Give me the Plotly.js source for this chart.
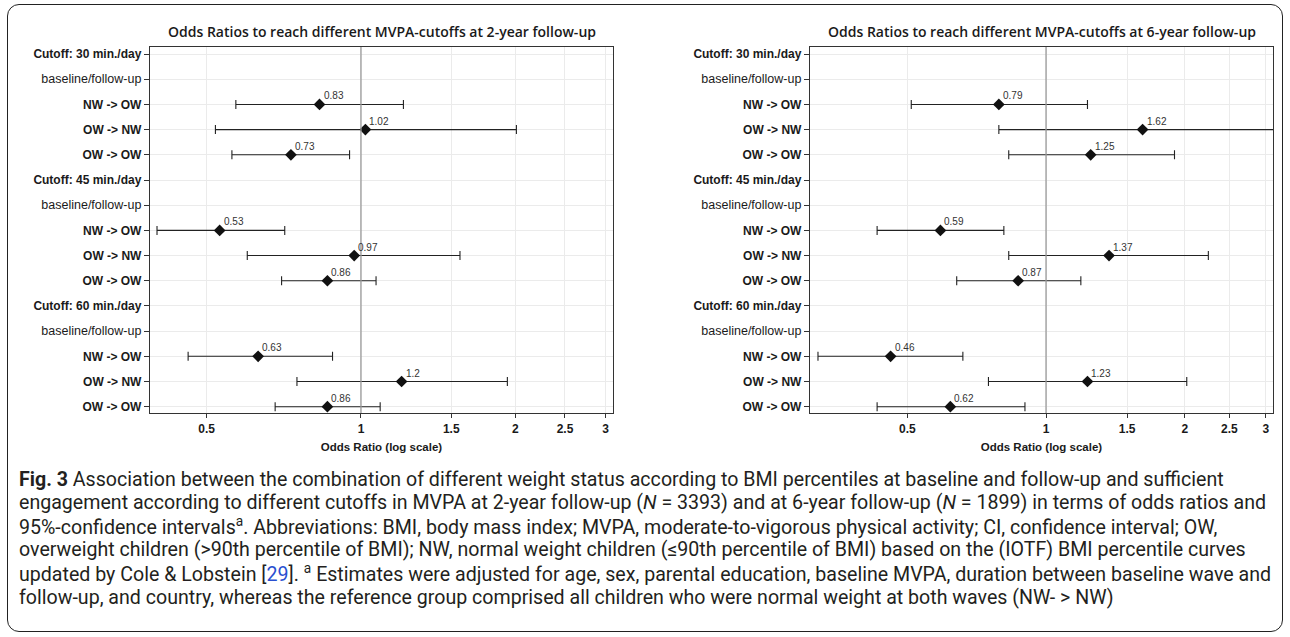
<!DOCTYPE html>
<html>
<head>
<meta charset="utf-8">
<script src="https://cdn.plot.ly/plotly-3.0.1.min.js"></script>
<style>
  html, body { margin: 0; padding: 0; background: #fff; }
  #wrap { position: relative; width: 1290px; height: 637px; }
  #chart { position: absolute; left: 0; top: 0; width: 1290px; height: 637px; }
  #frame { position: absolute; left: 7px; top: 4px; width: 1274px; height: 626px;
           border: 1.5px solid #222; border-radius: 12px; pointer-events: none; }
</style>
</head>
<body>
<div id="wrap"><div id="chart"></div><div id="frame"></div></div>
<script>
// ---------- data ----------
const cutoffLabels = ['Cutoff: 30 min./day', 'Cutoff: 45 min./day', 'Cutoff: 60 min./day'];
const subHeader = 'baseline/follow-up';
const transitions = ['NW -> OW', 'OW -> NW', 'OW -> OW'];

// 2-year follow-up (order: 30 NW->OW, OW->NW, OW->OW, 45 ..., 60 ...)
const or2 = [0.83, 1.02, 0.73, 0.53, 0.97, 0.86, 0.63, 1.2, 0.86];
const lo2 = [0.57, 0.52, 0.56, 0.40, 0.60, 0.70, 0.46, 0.75, 0.68];
const hi2 = [1.21, 2.01, 0.95, 0.71, 1.56, 1.07, 0.88, 1.93, 1.09];

// 6-year follow-up
const or6 = [0.79, 1.62, 1.25, 0.59, 1.37, 0.87, 0.46, 1.23, 0.62];
const lo6 = [0.51, 0.79, 0.83, 0.43, 0.83, 0.64, 0.32, 0.75, 0.43];
const hi6 = [1.23, 3.40, 1.90, 0.81, 2.25, 1.19, 0.66, 2.02, 0.90];

const xTicks = [0.5, 1, 1.5, 2, 2.5, 3];
const panelTitles = ['Odds Ratios to reach different MVPA-cutoffs at 2-year follow-up',
                     'Odds Ratios to reach different MVPA-cutoffs at 6-year follow-up'];
const xTitle = 'Odds Ratio (log scale)';

const captionLines = [
  '<b>Fig. 3</b> Association between the combination of different weight status according to BMI percentiles at baseline and follow-up and sufficient',
  'engagement according to different cutoffs in MVPA at 2-year follow-up (<i>N</i> = 3393) and at 6-year follow-up (<i>N</i> = 1899) in terms of odds ratios and',
  '95%-confidence intervals<sup>a</sup>. Abbreviations: BMI, body mass index; MVPA, moderate-to-vigorous physical activity; CI, confidence interval; OW,',
  'overweight children (&gt;90th percentile of BMI); NW, normal weight children (≤90th percentile of BMI) based on the (IOTF) BMI percentile curves',
  'updated by Cole &amp; Lobstein [<span style="color:#2a4fd0">29</span>]. <sup>a</sup> Estimates were adjusted for age, sex, parental education, baseline MVPA, duration between baseline wave and',
  'follow-up, and country, whereas the reference group comprised all children who were normal weight at both waves (NW- &gt; NW)'
];

// ---------- build rows ----------
const rows = [];
cutoffLabels.forEach(c => { rows.push(c); rows.push(subHeader); transitions.forEach(t => rows.push(t)); });
const estRows = [];
rows.forEach((r, i) => { if (transitions.includes(r)) estRows.push(i); });

function styledLabel(r) {
  if (r === subHeader) return '<span style="font-size:12.5px">' + r + '</span>';
  return '<b>' + r.replace('->', '-&gt;') + '</b>';
}
const tickText = rows.map(styledLabel);
const tickVals = rows.map((r, i) => i);

const baseFont = 'Liberation Sans, Arial, sans-serif';

function trace(or, lo, hi, xa, ya) {
  return {
    type: 'scatter', mode: 'markers', xaxis: xa, yaxis: ya,
    x: or, y: estRows,
    marker: {symbol: 'diamond', size: 9, color: '#111'},
    error_x: {type: 'data', symmetric: false,
              array: hi.map((h, i) => h - or[i]), arrayminus: lo.map((l, i) => or[i] - l),
              color: '#222', thickness: 1.1, width: 4.5},
    hoverinfo: 'skip', cliponaxis: true
  };
}
function valueLabels(or, xa, ya) {
  return or.map((v, i) => ({
    xref: xa, yref: ya, x: Math.log10(v), y: estRows[i],
    text: String(v), showarrow: false, xanchor: 'left', yanchor: 'bottom',
    xshift: 2, yshift: 1,
    font: {family: baseFont, size: 10, color: '#333'}
  }));
}

const W = 1290, H = 637;
const plotTop = 47, plotBot = 413;
const yDom = [(H - plotBot) / H, (H - plotTop) / H];
const leftDom = [150 / W, 613 / W];
const rightDom = [810 / W, 1273 / W];

function xAxis(dom, lo, hi, anchor) {
  return {
    domain: dom, type: 'log', range: [Math.log10(lo), Math.log10(hi)], anchor: anchor,
    tickvals: xTicks, ticktext: xTicks.map(v => '<b>' + v + '</b>'),
    ticks: 'outside', ticklen: 4, tickcolor: '#333', tickwidth: 1,
    tickfont: {family: baseFont, size: 12, color: '#1a1a1a'},
    showgrid: true, gridcolor: '#ebebeb', gridwidth: 1,
    showline: true, mirror: true, linecolor: '#333', linewidth: 1.2, zeroline: false,
    title: {text: '<b>' + xTitle + '</b>', font: {family: baseFont, size: 11.5, color: '#1a1a1a'}, standoff: 8}
  };
}
function yAxis(anchor) {
  return {
    domain: yDom, range: [14.25, -0.28], anchor: anchor,
    tickvals: tickVals, ticktext: tickText,
    ticks: 'outside', ticklen: 5, tickcolor: '#333', tickwidth: 1,
    tickfont: {family: baseFont, size: 12, color: '#1a1a1a'},
    showgrid: true, gridcolor: '#ebebeb', gridwidth: 1,
    showline: true, mirror: true, linecolor: '#333', linewidth: 1.2, zeroline: false
  };
}

let annotations = [];
[leftDom, rightDom].forEach((d, i) => {
  annotations.push({
    xref: 'paper', yref: 'paper', x: (d[0] + d[1]) / 2, y: 1 - 32 / H,
    xanchor: 'center', yanchor: 'middle', showarrow: false,
    text: panelTitles[i],
    font: {family: 'Open Sans, sans-serif', size: 14, color: '#1a1a1a', weight: 600}
  });
});
annotations = annotations.concat(valueLabels(or2, 'x', 'y'), valueLabels(or6, 'x2', 'y2'));
captionLines.forEach((t, k) => {
  annotations.push({
    xref: 'paper', yref: 'paper', x: 17 / W, y: 1 - (479 + 23.6 * k) / H,
    xanchor: 'left', yanchor: 'middle', showarrow: false, align: 'left',
    text: t, font: {family: 'Roboto, sans-serif', size: 19.6, color: '#231f20'}
  });
});

const shapes = [['x', 'y'], ['x2', 'y2']].map(p => ({
  type: 'line', xref: p[0], yref: p[1] + ' domain', x0: 1, x1: 1, y0: 0, y1: 1,
  line: {color: '#9a9a9a', width: 1.3}, layer: 'above'
}));

const layout = {
  width: W, height: H, margin: {l: 0, r: 0, t: 0, b: 0},
  paper_bgcolor: '#fff', plot_bgcolor: '#fff', showlegend: false,
  xaxis: xAxis(leftDom, 0.3876, 3.102, 'y'),
  yaxis: yAxis('x'),
  xaxis2: xAxis(rightDom, 0.3075, 3.108, 'y2'),
  yaxis2: yAxis('x2'),
  annotations: annotations, shapes: shapes
};

Plotly.newPlot('chart', [trace(or2, lo2, hi2, 'x', 'y'), trace(or6, lo6, hi6, 'x2', 'y2')], layout,
               {staticPlot: true, displayModeBar: false});
</script>
</body>
</html>
